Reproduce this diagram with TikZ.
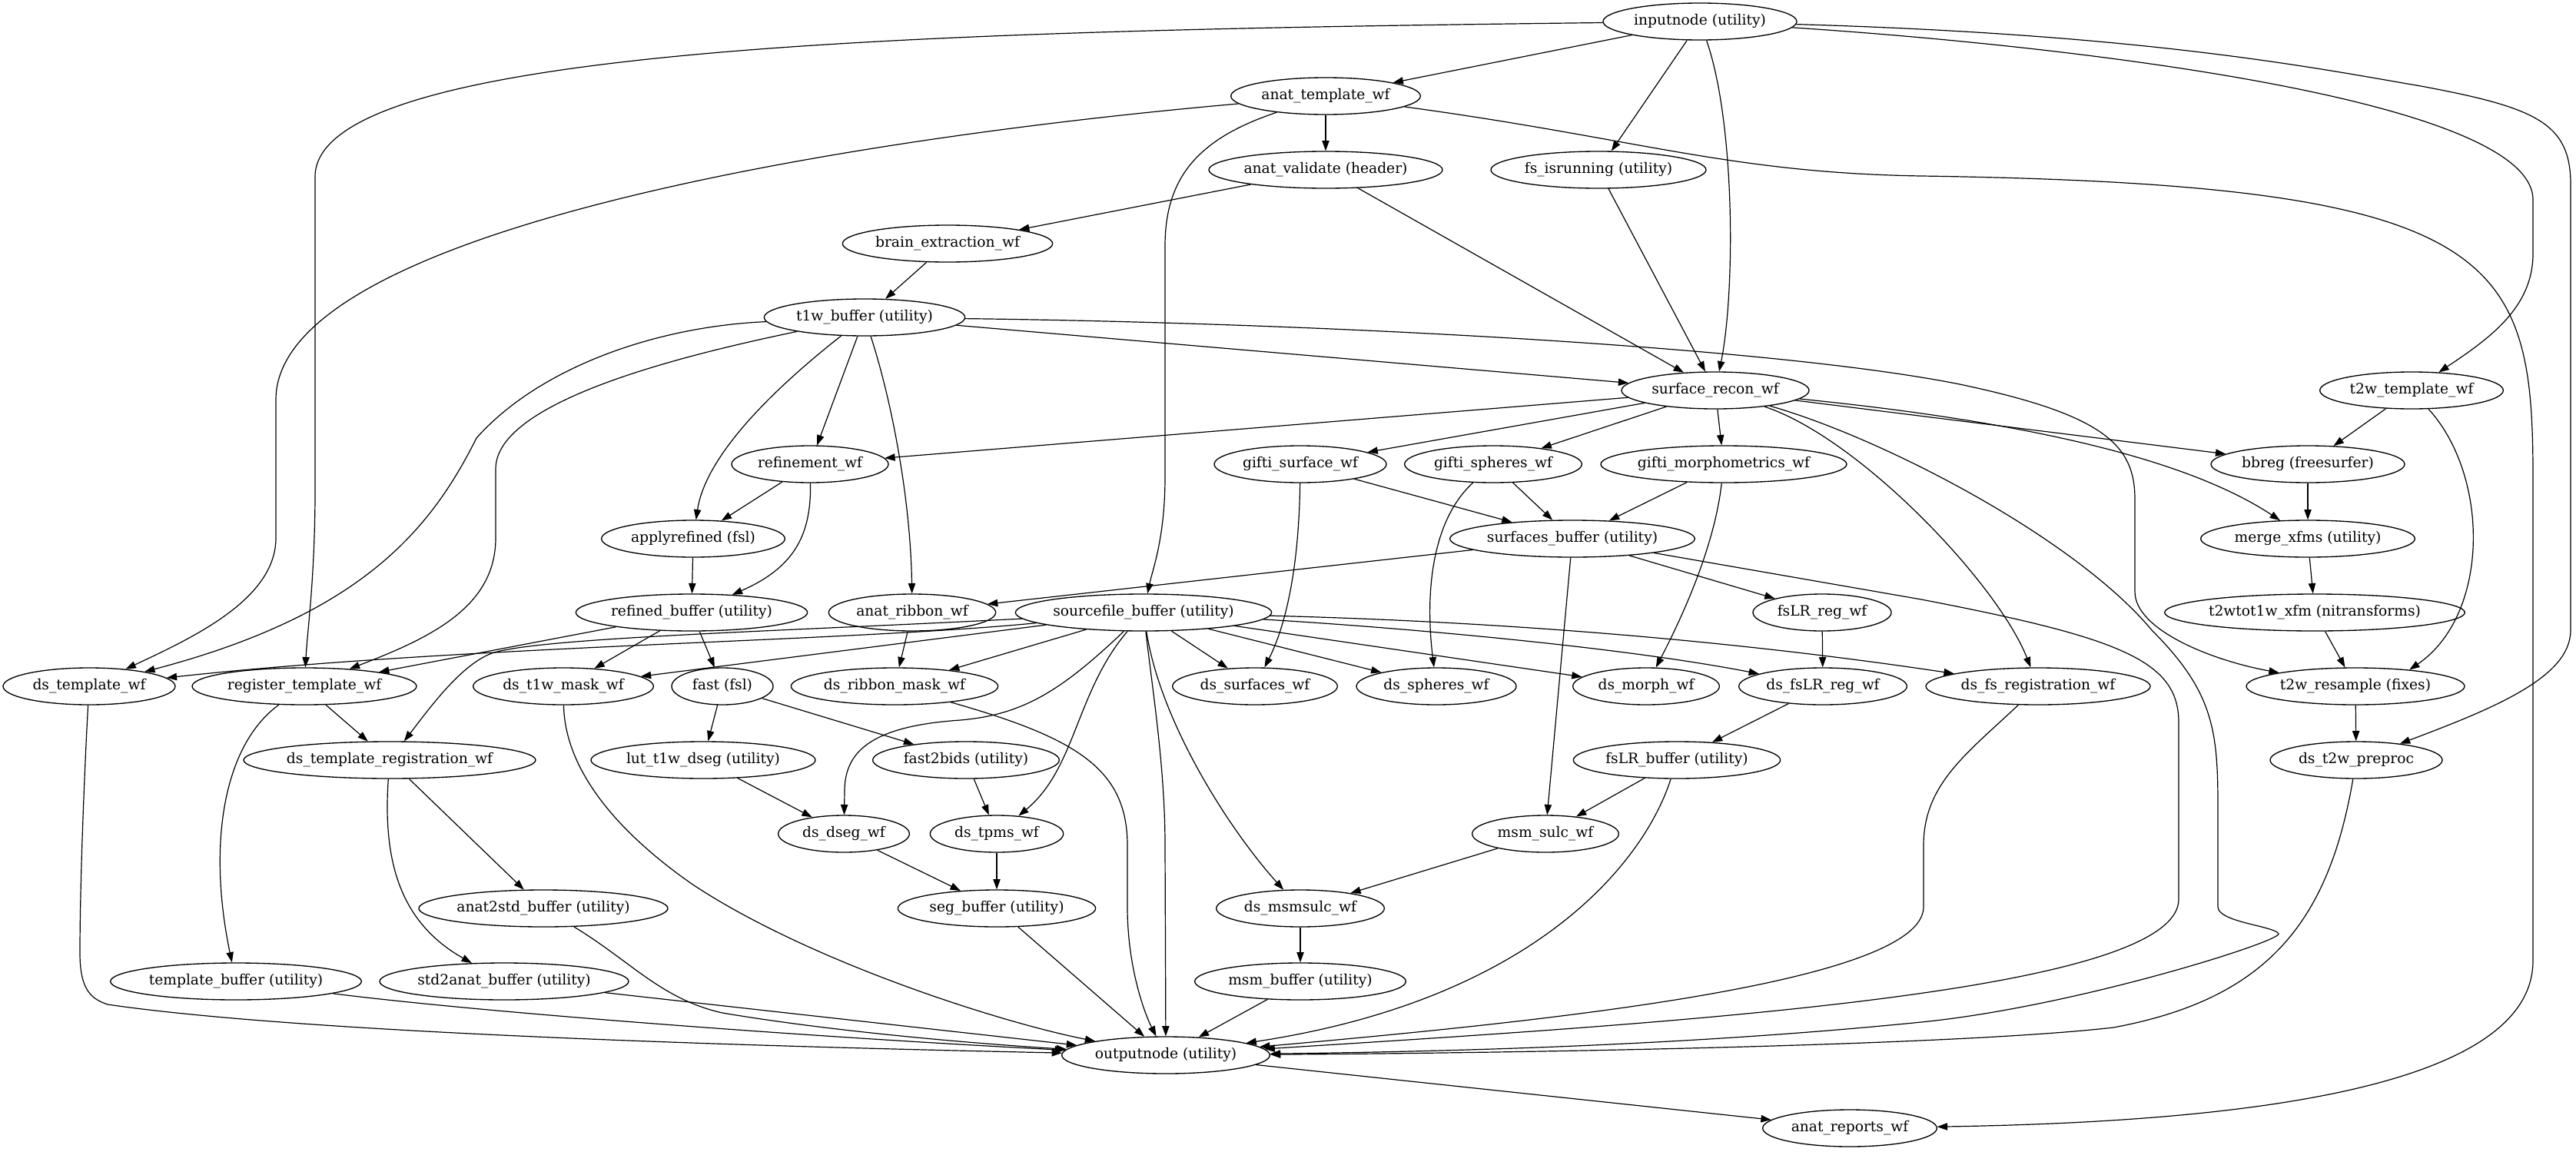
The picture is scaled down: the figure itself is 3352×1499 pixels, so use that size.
\documentclass[tikz,border=0pt]{standalone}
\usepackage{fontspec}
\setmainfont{DejaVu Serif}
\usetikzlibrary{arrows.meta,shapes.geometric}
\tikzset{
  gv/.style={draw, ellipse, inner sep=0pt, minimum height=36pt, line width=1pt, font=\fontsize{14}{17}\selectfont},
  ed/.style={draw, line width=0.9pt, -{Triangle[length=10pt,width=7pt]}}
}
\begin{document}
\begin{tikzpicture}[x=0.75pt, y=-0.75pt]
\useasboundingbox (0,0) rectangle (3352,1499);
% nodes
\node[gv, minimum width=189pt] (inp) at (2212,28) {\makebox[0pt]{\strut inputnode (utility)}};
\node[gv, minimum width=185pt] (atw) at (1725,125) {\makebox[0pt]{\strut anat\_template\_wf}};
\node[gv, minimum width=228pt] (avh) at (1725,221) {\makebox[0pt]{\strut anat\_validate (header)}};
\node[gv, minimum width=210pt] (fsr) at (2080,221) {\makebox[0pt]{\strut fs\_isrunning (utility)}};
\node[gv, minimum width=205pt] (bew) at (1233,317) {\makebox[0pt]{\strut brain\_extraction\_wf}};
\node[gv, minimum width=196pt] (t1b) at (1125,413) {\makebox[0pt]{\strut t1w\_buffer (utility)}};
\node[gv, minimum width=183pt] (srw) at (2232,508) {\makebox[0pt]{\strut surface\_recon\_wf}};
\node[gv, minimum width=179pt] (t2t) at (3138,508) {\makebox[0pt]{\strut t2w\_template\_wf}};
\node[gv, minimum width=153pt] (rwf) at (1054,604) {\makebox[0pt]{\strut refinement\_wf}};
\node[gv, minimum width=168pt] (gsw) at (1692,604) {\makebox[0pt]{\strut gifti\_surface\_wf}};
\node[gv, minimum width=173pt] (gsp) at (1943,604) {\makebox[0pt]{\strut gifti\_spheres\_wf}};
\node[gv, minimum width=240pt] (gmw) at (2243,604) {\makebox[0pt]{\strut gifti\_morphometrics\_wf}};
\node[gv, minimum width=189pt] (bbr) at (3003,604) {\makebox[0pt]{\strut bbreg (freesurfer)}};
\node[gv, minimum width=179pt] (apr) at (902,701) {\makebox[0pt]{\strut applyrefined (fsl)}};
\node[gv, minimum width=239pt] (sbu) at (2046,701) {\makebox[0pt]{\strut surfaces\_buffer (utility)}};
\node[gv, minimum width=209pt] (mxf) at (3003,701) {\makebox[0pt]{\strut merge\_xfms (utility)}};
\node[gv, minimum width=226pt] (rbu) at (900,797) {\makebox[0pt]{\strut refined\_buffer (utility)}};
\node[gv, minimum width=163pt] (arb) at (1187,797) {\makebox[0pt]{\strut anat\_ribbon\_wf}};
\node[gv, minimum width=250pt] (sfb) at (1488,797) {\makebox[0pt]{\strut sourcefile\_buffer (utility)}};
\node[gv, minimum width=135pt] (frw) at (2371,797) {\makebox[0pt]{\strut fsLR\_reg\_wf}};
\node[gv, minimum width=293pt] (xfm) at (3012,797) {\makebox[0pt]{\strut t2wtot1w\_xfm (nitransforms)}};
\node[gv, minimum width=168pt] (dtw) at (116,893) {\makebox[0pt]{\strut ds\_template\_wf}};
\node[gv, minimum width=219pt] (reg) at (396,893) {\makebox[0pt]{\strut register\_template\_wf}};
\node[gv, minimum width=176pt] (dtm) at (733,893) {\makebox[0pt]{\strut ds\_t1w\_mask\_wf}};
\node[gv, minimum width=99pt] (fst) at (940,893) {\makebox[0pt]{\strut fast (fsl)}};
\node[gv, minimum width=202pt] (drm) at (1164,893) {\makebox[0pt]{\strut ds\_ribbon\_mask\_wf}};
\node[gv, minimum width=161pt] (dsu) at (1633,893) {\makebox[0pt]{\strut ds\_surfaces\_wf}};
\node[gv, minimum width=156pt] (dsp) at (1869,893) {\makebox[0pt]{\strut ds\_spheres\_wf}};
\node[gv, minimum width=143pt] (dmo) at (2142,893) {\makebox[0pt]{\strut ds\_morph\_wf}};
\node[gv, minimum width=164pt] (dfl) at (2372,893) {\makebox[0pt]{\strut ds\_fsLR\_reg\_wf}};
\node[gv, minimum width=219pt] (dfr) at (2652,893) {\makebox[0pt]{\strut ds\_fs\_registration\_wf}};
\node[gv, minimum width=213pt] (t2r) at (3065,893) {\makebox[0pt]{\strut t2w\_resample (fixes)}};
\node[gv, minimum width=285pt] (dtr) at (507,989) {\makebox[0pt]{\strut ds\_template\_registration\_wf}};
\node[gv, minimum width=219pt] (lut) at (915,989) {\makebox[0pt]{\strut lut\_t1w\_dseg (utility)}};
\node[gv, minimum width=182pt] (f2b) at (1257,989) {\makebox[0pt]{\strut fast2bids (utility)}};
\node[gv, minimum width=202pt] (flb) at (2182,989) {\makebox[0pt]{\strut fsLR\_buffer (utility)}};
\node[gv, minimum width=168pt] (dt2) at (3066,989) {\makebox[0pt]{\strut ds\_t2w\_preproc}};
\node[gv, minimum width=128pt] (dds) at (1098,1085) {\makebox[0pt]{\strut ds\_dseg\_wf}};
\node[gv, minimum width=130pt] (dtp) at (1297,1085) {\makebox[0pt]{\strut ds\_tpms\_wf}};
\node[gv, minimum width=143pt] (msw) at (2011,1085) {\makebox[0pt]{\strut msm\_sulc\_wf}};
\node[gv, minimum width=243pt] (a2s) at (707,1182) {\makebox[0pt]{\strut anat2std\_buffer (utility)}};
\node[gv, minimum width=193pt] (segb) at (1297,1182) {\makebox[0pt]{\strut seg\_buffer (utility)}};
\node[gv, minimum width=164pt] (dms) at (1692,1182) {\makebox[0pt]{\strut ds\_msmsulc\_wf}};
\node[gv, minimum width=245pt] (tbu) at (307,1277) {\makebox[0pt]{\strut template\_buffer (utility)}};
\node[gv, minimum width=243pt] (s2a) at (656,1277) {\makebox[0pt]{\strut std2anat\_buffer (utility)}};
\node[gv, minimum width=206pt] (mbu) at (1692,1277) {\makebox[0pt]{\strut msm\_buffer (utility)}};
\node[gv, minimum width=203pt] (out) at (1517,1373) {\makebox[0pt]{\strut outputnode (utility)}};
\node[gv, minimum width=170pt] (arw) at (2407,1468) {\makebox[0pt]{\strut anat\_reports\_wf}};
% edges from inputnode
\draw[ed] (inp) -- (atw);
\draw[ed] (inp) .. controls (1200,40) and (410,60) .. (410,230) -- (410,650) .. controls (409,760) and (400,820) .. (reg);
\draw[ed] (inp) -- (fsr);
\draw[ed] (inp) .. controls (2258,160) and (2258,380) .. (srw);
\draw[ed] (inp) .. controls (2700,60) and (3296,130) .. (3296,260) -- (3296,330) .. controls (3296,400) and (3240,440) .. (t2t);
\draw[ed] (inp) .. controls (2800,45) and (3020,90) .. (3150,112) .. controls (3300,140) and (3345,160) .. (3345,240) -- (3345,820) .. controls (3345,880) and (3250,920) .. (dt2);
% anat_template_wf
\draw[ed] (atw) -- (avh);
\draw[ed] (atw) .. controls (1100,180) and (359,300) .. (359,520) -- (359,700) .. controls (359,780) and (250,830) .. (dtw);
\draw[ed] (atw) .. controls (1560,180) and (1516,230) .. (1516,320) -- (1516,620) .. controls (1516,700) and (1500,740) .. (sfb);
\draw[ed] (atw) .. controls (2130,180) and (2250,225) .. (2500,229) .. controls (3250,240) and (3296,330) .. (3296,620) -- (3296,1250) .. controls (3296,1420) and (2900,1460) .. (arw);
% validate, isrunning, brain extraction
\draw[ed] (avh) -- (bew);
\draw[ed] (avh) -- (srw);
\draw[ed] (fsr) -- (srw);
\draw[ed] (bew) -- (t1b);
% t1w_buffer
\draw[ed] (t1b) .. controls (850,425) and (700,480) .. (620,570) .. controls (560,690) and (470,800) .. (dtw);
\draw[ed] (t1b) .. controls (900,460) and (645,520) .. (645,610) -- (645,700) .. controls (645,790) and (560,830) .. (reg);
\draw[ed] (t1b) .. controls (1040,480) and (920,580) .. (apr);
\draw[ed] (t1b) -- (rwf);
\draw[ed] (t1b) .. controls (1160,520) and (1185,650) .. (arb);
\draw[ed] (t1b) -- (srw);
\draw[ed] (t1b) .. controls (1700,420) and (2300,450) .. (2550,500) .. controls (2740,540) and (2778,580) .. (2778,650) -- (2778,770) .. controls (2778,820) and (2880,860) .. (t2r);
% surface_recon_wf
\draw[ed] (srw) -- (rwf);
\draw[ed] (srw) -- (gsw);
\draw[ed] (srw) -- (gsp);
\draw[ed] (srw) -- (gmw);
\draw[ed] (srw) -- (bbr);
\draw[ed] (srw) .. controls (2650,550) and (2850,600) .. (mxf);
\draw[ed] (srw) .. controls (2420,570) and (2600,760) .. (dfr);
\draw[ed] (srw) .. controls (2450,570) and (2700,700) .. (2800,820) .. controls (2880,900) and (2886,950) .. (2886,1050) -- (2886,1180) .. controls (2886,1200) and (2960,1205) .. (2965,1215) .. controls (2968,1225) and (2700,1310) .. (2500,1330) .. controls (2200,1360) and (1900,1368) .. (out);
% t2w branch
\draw[ed] (t2t) -- (bbr);
\draw[ed] (t2t) .. controls (3240,620) and (3240,800) .. (t2r.17);
\draw[ed] (bbr) -- (mxf);
\draw[ed] (mxf) -- (xfm);
\draw[ed] (xfm) -- (t2r);
\draw[ed] (t2r) -- (dt2);
\draw[ed] (dt2) .. controls (3030,1200) and (2950,1300) .. (2750,1337) .. controls (2550,1360) and (2000,1370) .. (out);
% refinement
\draw[ed] (rwf) -- (apr);
\draw[ed] (rwf) .. controls (1056,700) and (1030,740) .. (rbu);
\draw[ed] (apr) -- (rbu);
\draw[ed] (rbu) -- (fst);
\draw[ed] (rbu) -- (dtm);
\draw[ed] (rbu) -- (reg);
\draw[ed] (arb) -- (drm);
% gifti
\draw[ed] (gsw) -- (sbu);
\draw[ed] (gsw) .. controls (1690,750) and (1670,820) .. (dsu);
\draw[ed] (gsp) -- (sbu);
\draw[ed] (gsp) .. controls (1860,680) and (1855,780) .. (dsp);
\draw[ed] (gmw) -- (sbu);
\draw[ed] (gmw) .. controls (2230,720) and (2180,820) .. (dmo);
% surfaces_buffer
\draw[ed] (sbu) -- (arb);
\draw[ed] (sbu) -- (msw);
\draw[ed] (sbu) -- (frw);
\draw[ed] (sbu) -- (2500,780) .. controls (2760,830) and (2835,860) .. (2835,940) -- (2835,1170) .. controls (2835,1290) and (2200,1330) .. (out);
% sourcefile_buffer
\draw[ed] (sfb) .. controls (1100,835) and (600,840) .. (dtw);
\draw[ed] (sfb) .. controls (1000,822) and (700,830) .. (640,850) .. controls (600,865) and (560,920) .. (dtr);
\draw[ed] (sfb) -- (dtm);
\draw[ed] (sfb) -- (drm);
\draw[ed] (sfb) .. controls (1380,900) and (1330,930) .. (1250,937) .. controls (1130,945) and (1099,980) .. (1099,1030) -- (dds);
\draw[ed] (sfb) .. controls (1400,900) and (1400,1000) .. (dtp);
\draw[ed] (sfb) .. controls (1500,900) and (1516,1000) .. (1516,1100) -- (out);
\draw[ed] (sfb) .. controls (1510,940) and (1600,1080) .. (dms);
\draw[ed] (sfb) -- (dsu);
\draw[ed] (sfb) -- (dsp);
\draw[ed] (sfb) -- (dmo);
\draw[ed] (sfb) .. controls (1800,815) and (2100,840) .. (dfl);
\draw[ed] (sfb) .. controls (2000,810) and (2300,840) .. (dfr);
% template registration
\draw[ed] (reg) -- (dtr);
\draw[ed] (reg) .. controls (290,970) and (270,1100) .. (tbu);
\draw[ed] (dtr) -- (a2s);
\draw[ed] (dtr) .. controls (498,1120) and (520,1200) .. (s2a);
% segmentation
\draw[ed] (fst) -- (lut);
\draw[ed] (fst) -- (f2b);
\draw[ed] (lut) -- (dds);
\draw[ed] (f2b) -- (dtp);
\draw[ed] (dds) -- (segb);
\draw[ed] (dtp) -- (segb);
% fsLR / msm
\draw[ed] (frw) -- (dfl);
\draw[ed] (dfl) -- (flb);
\draw[ed] (flb) -- (msw);
\draw[ed] (msw) -- (dms);
\draw[ed] (dms) -- (mbu);
% into outputnode
\draw[ed] (dtw) .. controls (110,1000) and (104,1150) .. (104,1240) .. controls (104,1290) and (120,1300) .. (140,1307) .. controls (400,1345) and (1000,1362) .. (out);
\draw[ed] (tbu) .. controls (650,1320) and (1100,1352) .. (out);
\draw[ed] (s2a) -- (out);
\draw[ed] (a2s) .. controls (820,1250) and (860,1300) .. (940,1318) .. controls (1100,1345) and (1300,1360) .. (out);
\draw[ed] (dtm) .. controls (735,1000) and (800,1080) .. (900,1150) .. controls (1050,1250) and (1300,1330) .. (out);
\draw[ed] (drm) .. controls (1400,960) and (1467,1000) .. (1467,1100) -- (1467,1180) .. controls (1467,1260) and (1490,1320) .. (out);
\draw[ed] (segb) -- (out);
\draw[ed] (mbu) -- (out);
\draw[ed] (flb) .. controls (2140,1120) and (2000,1300) .. (out);
\draw[ed] (dfr) .. controls (2560,980) and (2503,1020) .. (2503,1100) -- (2503,1180) .. controls (2503,1280) and (2000,1330) .. (out);
\draw[ed] (out) -- (arw);
\end{tikzpicture}
\end{document}
